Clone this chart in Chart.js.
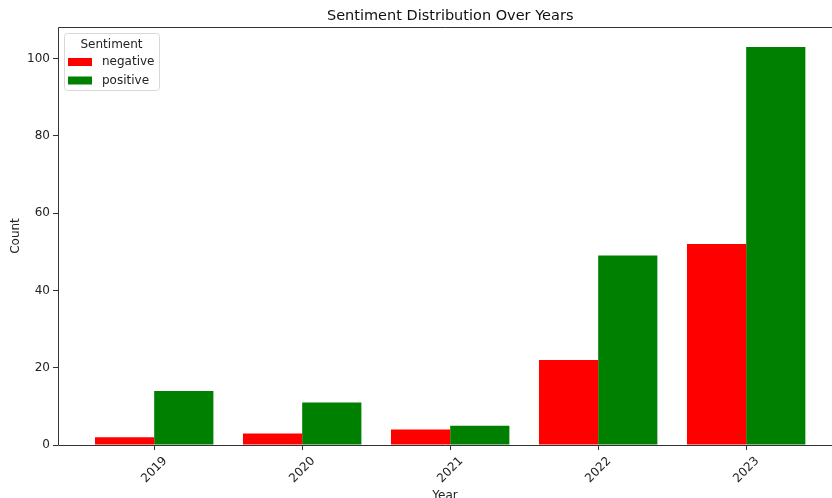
<!DOCTYPE html>
<html>
<head>
<meta charset="utf-8">
<script src="https://cdn.jsdelivr.net/npm/chart.js@4"></script>
<style>
  html, body { margin: 0; padding: 0; background: #fff; overflow: hidden; }
  canvas { display: block; }
</style>
</head>
<body>
<canvas id="barChart" width="832" height="498"></canvas>
<script>
const years = ["2019", "2020", "2021", "2022", "2023"];
const negative = [2, 3, 4, 22, 52];
const positive = [14, 11, 5, 49, 103];
const yTicks = [0, 20, 40, 60, 80, 100];
const chartTitle = "Sentiment Distribution Over Years";

const font = "'DejaVu Sans', sans-serif";

// spines: left, top and bottom (the right one is off the picture)
const frame = {
  id: "frame",
  afterDatasetsDraw(chart) {
    const { ctx, chartArea: a } = chart;
    const l = Math.round(a.left) + 0.5, t = Math.round(a.top) + 0.5, b = Math.round(a.bottom) + 0.5;
    ctx.save();
    ctx.strokeStyle = "#333";
    ctx.lineWidth = 1;
    ctx.beginPath();
    ctx.moveTo(a.right + 2, t);
    ctx.lineTo(l, t);
    ctx.lineTo(l, b);
    ctx.lineTo(a.right + 2, b);
    ctx.stroke();
    ctx.restore();
  },
};

// title centred over the axes (middle of the x range), not the canvas
const axesTitle = {
  id: "axesTitle",
  afterDraw(chart) {
    const { ctx } = chart;
    const x = chart.scales.x;
    const cx = x.getPixelForValue((x.min + 4.65) / 2);
    ctx.save();
    ctx.fillStyle = "#111";
    ctx.font = "14.5px " + font;
    ctx.textAlign = "center";
    ctx.textBaseline = "middle";
    ctx.fillText(chartTitle, cx, 16);
    ctx.restore();
  },
};

// legend drawn inside the plot, top-left
const innerLegend = {
  id: "innerLegend",
  afterDraw(chart) {
    const { ctx, chartArea: a } = chart;
    const x = a.left + 6, y = a.top + 6, w = 95, h = 57;
    ctx.save();
    ctx.fillStyle = "rgba(255,255,255,0.8)";
    ctx.strokeStyle = "#d8d8d8";
    ctx.lineWidth = 1;
    ctx.beginPath();
    ctx.roundRect(x + 0.5, y + 0.5, w, h, 3);
    ctx.fill();
    ctx.stroke();
    ctx.fillStyle = "#222";
    ctx.font = "12px " + font;
    ctx.textAlign = "center";
    ctx.textBaseline = "middle";
    ctx.fillText("Sentiment", x + w / 2, y + 12);
    ctx.textAlign = "left";
    chart.data.datasets.forEach((ds, i) => {
      const ry = y + 29 + i * 18.5;
      ctx.fillStyle = ds.backgroundColor;
      ctx.fillRect(x + 4, ry - 4, 24, 8);
      ctx.fillStyle = "#222";
      ctx.fillText(ds.label, x + 38, ry);
    });
    ctx.restore();
  },
};

const barData = {
  datasets: [
    {
      label: "negative",
      data: years.map((_, i) => ({ x: i, y: negative[i] })),
      backgroundColor: "#ff0000",
      borderWidth: 0,
    },
    {
      label: "positive",
      data: years.map((_, i) => ({ x: i, y: positive[i] })),
      backgroundColor: "#008000",
      borderWidth: 0,
    },
  ],
};

const barConfig = {
  type: "bar",
  data: barData,
  options: {
    responsive: false,
    animation: false,
    devicePixelRatio: 1,
    categoryPercentage: 0.8,
    barPercentage: 1.0,
    layout: { padding: { left: 9, right: 0, top: 27, bottom: 0 } },
    plugins: {
      legend: { display: false },
      tooltip: { enabled: false },
      title: { display: false },
    },
    scales: {
      x: {
        type: "linear",
        // the original plot is cut off at the right edge of the picture
        min: -0.65,
        max: 4.58,
        offset: false,
        afterBuildTicks(scale) {
          scale.ticks = years.map((_, i) => ({ value: i }));
        },
        afterFit(scale) {
          scale.height = 53;
          scale.paddingLeft = 0;
          scale.paddingRight = 0;
        },
        grid: {
          offset: false,
          drawOnChartArea: false,
          drawTicks: true,
          tickLength: 5,
          color: "#333",
        },
        border: { display: false },
        ticks: {
          minRotation: 45,
          maxRotation: 45,
          labelOffset: 11,
          padding: 4,
          color: "#222",
          font: { family: font, size: 12 },
          callback: (v) => years[v],
        },
        title: {
          display: true,
          text: "Year",
          color: "#222",
          font: { family: font, size: 12 },
          padding: { top: 0, bottom: -5 },
        },
      },
      y: {
        min: 0,
        max: 108.15,
        afterBuildTicks(scale) {
          scale.ticks = yTicks.map((v) => ({ value: v }));
        },
        afterFit(scale) {
          scale.width = 49;
          scale.paddingTop = 0;
          scale.paddingBottom = 0;
        },
        grid: {
          drawOnChartArea: false,
          drawTicks: true,
          tickLength: 5,
          color: "#333",
        },
        border: { display: false },
        ticks: {
          padding: 3,
          color: "#222",
          font: { family: font, size: 12 },
        },
        title: {
          display: true,
          text: "Count",
          color: "#222",
          font: { family: font, size: 12 },
          padding: { top: 0, bottom: 0 },
        },
      },
    },
  },
  plugins: [frame, axesTitle, innerLegend],
};

new Chart(document.getElementById("barChart"), barConfig);
</script>
</body>
</html>
